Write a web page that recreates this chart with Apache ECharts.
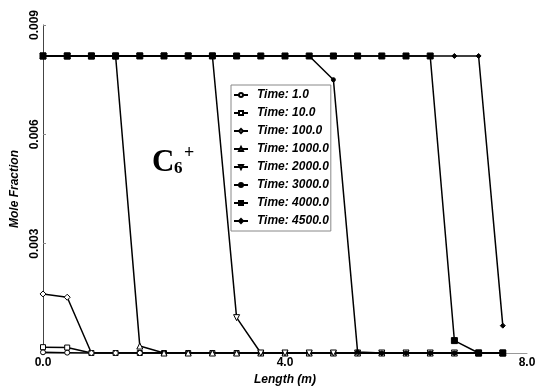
<!DOCTYPE html>
<html>
<head>
<meta charset="utf-8">
<script src="https://cdn.jsdelivr.net/npm/echarts@6/dist/echarts.min.js"></script>
<style>
  html, body { margin: 0; padding: 0; background: #fff; }
  #chart { width: 536px; height: 386px; }
</style>
</head>
<body>
<div id="chart"></div>
<script>
// grid positions along the column (m)
const lengths = [0.0, 0.4, 0.8, 1.2, 1.6, 2.0, 2.4, 2.8, 3.2, 3.6, 4.0, 4.4, 4.8, 5.2, 5.6, 6.0, 6.4, 6.8, 7.2, 7.6]

const t1 = [0.00002, 0.00001, 0, 0, 0, 0, 0, 0, 0, 0, 0, 0, 0, 0, 0, 0, 0, 0, 0, 0]
const t10 = [0.00016, 0.00015, 0, 0, 0, 0, 0, 0, 0, 0, 0, 0, 0, 0, 0, 0, 0, 0, 0, 0]
const t100 = [0.00162, 0.00153, 0, 0, 0, 0, 0, 0, 0, 0, 0, 0, 0, 0, 0, 0, 0, 0, 0, 0]
const t1000 = [0.00815, 0.00815, 0.00815, 0.00815, 0.00019, 0, 0, 0, 0, 0, 0, 0, 0, 0, 0, 0, 0, 0, 0, 0]
const t2000 = [0.00815, 0.00815, 0.00815, 0.00815, 0.00815, 0.00815, 0.00815, 0.00815, 0.00097, 0, 0, 0, 0, 0, 0, 0, 0, 0, 0, 0]
const t3000 = [0.00815, 0.00815, 0.00815, 0.00815, 0.00815, 0.00815, 0.00815, 0.00815, 0.00815, 0.00815, 0.00815, 0.00815, 0.0075, 0.00003, 0, 0, 0, 0, 0, 0]
const t4000 = [0.00815, 0.00815, 0.00815, 0.00815, 0.00815, 0.00815, 0.00815, 0.00815, 0.00815, 0.00815, 0.00815, 0.00815, 0.00815, 0.00815, 0.00815, 0.00815, 0.00815, 0.00034, 0, 0]
const t4500 = [0.00815, 0.00815, 0.00815, 0.00815, 0.00815, 0.00815, 0.00815, 0.00815, 0.00815, 0.00815, 0.00815, 0.00815, 0.00815, 0.00815, 0.00815, 0.00815, 0.00815, 0.00815, 0.00815, 0.00075]

const seriesNames = ['Time: 1.0', 'Time: 10.0', 'Time: 100.0', 'Time: 1000.0', 'Time: 2000.0', 'Time: 3000.0', 'Time: 4000.0', 'Time: 4500.0']
const seriesValues = [t1, t10, t100, t1000, t2000, t3000, t4000, t4500]
const symbols = ['circle', 'rect', 'diamond', 'triangle', 'path://M0,0 L10,0 L5,9 Z', 'circle', 'rect', 'diamond']
const filled = [false, false, false, false, false, true, true, true]
const symbolSizes = [5, 5, 6, 6, 6, 4, 6, 5]

const xTicks = [0, 4, 8]
const yTicks = [0.003, 0.006, 0.009]

const chart = echarts.init(document.getElementById('chart'))

const boldItalic = { fontFamily: 'Liberation Sans', fontWeight: 'bold', fontStyle: 'italic', color: '#000' }

chart.setOption({
  animation: false,
  grid: { left: 43, right: 9, top: 25, bottom: 33, outerBoundsMode: 'none' },
  legend: {
    orient: 'vertical',
    left: 231,
    top: 85,
    padding: [4, 2, 4, 2],
    itemWidth: 14,
    itemHeight: 5,
    itemGap: 6,
    backgroundColor: '#fff',
    borderColor: '#888',
    borderWidth: 1,
    textStyle: { ...boldItalic, fontSize: 12, lineHeight: 12, padding: [0, 0, 0, 4] },
    data: seriesNames,
  },
  xAxis: {
    type: 'value',
    min: 0,
    max: 8,
    interval: 4,
    name: 'Length (m)',
    nameLocation: 'middle',
    nameGap: 13,
    nameTextStyle: { ...boldItalic, fontSize: 12 },
    axisLine: { lineStyle: { color: '#999', width: 1 } },
    axisTick: { show: false },
    splitLine: { show: false },
    axisLabel: {
      margin: 4,
      color: '#000',
      fontFamily: 'Liberation Sans',
      fontWeight: 'bold',
      fontSize: 12,
      formatter: (v) => (xTicks.includes(v) ? v.toFixed(1) : ''),
    },
  },
  yAxis: {
    type: 'value',
    min: 0,
    max: 0.009,
    interval: 0.003,
    name: 'Mole Fraction',
    nameLocation: 'middle',
    nameRotate: 90,
    nameGap: 21,
    nameTextStyle: { ...boldItalic, fontSize: 12 },
    axisLine: { show: true, lineStyle: { color: '#444', width: 1 } },
    axisTick: { show: true, inside: true, length: 3, lineStyle: { color: '#888' } },
    splitLine: { show: false },
    axisLabel: {
      rotate: 90,
      margin: 2,
      color: '#000',
      fontFamily: 'Liberation Sans',
      fontWeight: 'bold',
      fontSize: 12,
      formatter: (v) => (yTicks.some((t) => Math.abs(t - v) < 1e-9) ? v.toFixed(3) : ''),
    },
  },
  graphic: [
    { type: 'text', left: 152, top: 147, style: { text: 'C', font: 'bold 31px "Liberation Serif"', fill: '#000' } },
    { type: 'text', left: 174, top: 160, style: { text: '6', font: 'bold 17px "Liberation Serif"', fill: '#000' } },
    { type: 'text', left: 184, top: 144, style: { text: '+', font: 'bold 18px "Liberation Serif"', fill: '#000' } },
  ],
  series: seriesNames.map((name, i) => ({
    name,
    type: 'line',
    data: lengths.map((x, j) => [x, seriesValues[i][j]]),
    symbol: symbols[i],
    symbolSize: symbolSizes[i],
    showAllSymbol: true,
    color: '#000',
    lineStyle: { color: '#000', width: 1.5 },
    itemStyle: { color: filled[i] ? '#000' : '#fff', borderColor: '#000', borderWidth: 1 },
    emphasis: { disabled: true },
    z: 2 + i,
  })),
})
</script>
</body>
</html>
